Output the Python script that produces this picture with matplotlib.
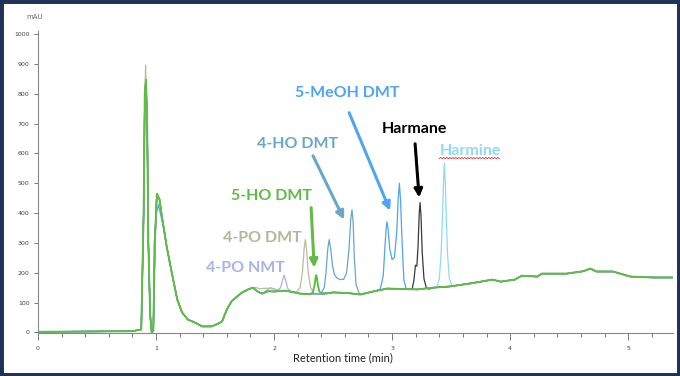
import numpy as np
import matplotlib
matplotlib.use("Agg")
import matplotlib.pyplot as plt
from matplotlib.patches import Rectangle

# shared baseline of the overlaid chromatograms (min, mAU)
base_t = np.array([0.00, 0.40, 0.80, 0.875, 0.895, 0.905, 0.915, 0.925, 0.935, 0.95, 0.963, 0.977,
                   0.99, 1.007, 1.03, 1.05, 1.09, 1.14, 1.18, 1.22, 1.27, 1.33, 1.39, 1.47, 1.53,
                   1.56, 1.60, 1.64, 1.68, 1.73, 1.78, 1.82, 1.86, 1.90, 1.95, 2.00, 2.10, 2.22,
                   2.35, 2.50, 2.62, 2.73, 2.84, 2.96, 3.10, 3.21, 3.35, 3.49, 3.66, 3.78, 3.85,
                   3.92, 4.04, 4.10, 4.23, 4.27, 4.48, 4.62, 4.68, 4.73, 4.87, 5.02, 5.21, 5.40])
base_v = np.array([2, 3, 4, 10, 400, 800, 846, 700, 300, 60, 0, 5,
                   300, 465, 445, 388, 288, 187, 110, 67, 43, 33, 20, 20, 30,
                   37, 77, 104, 118, 134, 144, 150, 137, 130, 138, 137, 140, 130,
                   128, 134, 132, 127, 137, 147, 145, 144, 150, 154, 164, 172, 177,
                   170, 177, 190, 187, 197, 197, 205, 214, 204, 204, 187, 184, 184])

# peaks of each compound
npo_nmt_t = [1.93, 1.97, 2.00, 2.03, 2.055, 2.07, 2.085, 2.10, 2.115, 2.14]
npo_nmt_v = [140, 150, 146, 141, 150, 172, 192, 172, 148, 137]

po_dmt_t = [1.85, 1.88, 1.93, 1.98, 2.02, 2.19, 2.22, 2.24, 2.255, 2.265, 2.275, 2.29, 2.31, 2.34]
po_dmt_v = [150, 146, 148, 147, 142, 135, 150, 200, 280, 311, 280, 200, 150, 130]
po_dmt_spike_t = [0.905, 0.912, 0.92]
po_dmt_spike_v = [800, 896, 760]

ho5_dmt_t = [2.31, 2.33, 2.343, 2.351, 2.357, 2.363, 2.371, 2.385, 2.41]
ho5_dmt_v = [128, 136, 158, 183, 192, 183, 158, 136, 128]

ho4_dmt_t = [2.40, 2.425, 2.44, 2.455, 2.467, 2.48, 2.495, 2.51, 2.53, 2.56, 2.59, 2.615, 2.635,
             2.65, 2.66, 2.67, 2.68, 2.695, 2.72]
ho4_dmt_v = [132, 150, 200, 280, 311, 280, 225, 195, 183, 177, 178, 200, 280, 380, 411, 370,
             250, 160, 132]

meo_dmt_t = [2.90, 2.925, 2.94, 2.95, 2.957, 2.965, 2.98, 3.00, 3.02, 3.04, 3.052, 3.062,
             3.072, 3.085, 3.10, 3.12]
meo_dmt_v = [145, 190, 290, 350, 371, 350, 280, 244, 252, 340, 450, 500, 440, 300, 175, 145]
meo_front_t = [0.985, 1.00, 1.02, 1.05, 1.07]
meo_front_v = [300, 395, 428, 375, 345]

harmane_t = [3.17, 3.185, 3.198, 3.21, 3.22, 3.23, 3.237, 3.245, 3.255, 3.27, 3.29, 3.31]
harmane_v = [145, 175, 225, 222, 290, 400, 435, 390, 270, 180, 150, 145]

harmine_t = [3.38, 3.40, 3.415, 3.428, 3.437, 3.443, 3.449, 3.458, 3.47, 3.485, 3.51]
harmine_v = [152, 180, 260, 400, 520, 568, 520, 400, 260, 180, 155]


def merge(t, v, pt, pv):
    keep = (t < pt[0]) | (t > pt[-1])
    t2 = np.concatenate([t[keep], pt])
    v2 = np.concatenate([v[keep], pv])
    order = np.argsort(t2)
    return t2[order], v2[order]


fig = plt.figure(figsize=(6.8, 3.76), dpi=100)
ax = fig.add_axes([38 / 680, 43 / 376, 635 / 680, 302 / 376])

traces = [
    ([(npo_nmt_t, npo_nmt_v)], "#aab3ea", 0.9),
    ([(po_dmt_t, po_dmt_v), (po_dmt_spike_t, po_dmt_spike_v)], "#b9bc9c", 0.9),
    ([(ho4_dmt_t, ho4_dmt_v)], "#6aa6c6", 0.9),
    ([(meo_dmt_t, meo_dmt_v), (meo_front_t, meo_front_v)], "#4ea5f0", 0.9),
    ([(harmane_t, harmane_v)], "#3a3a3a", 0.9),
    ([(harmine_t, harmine_v)], "#8fd9f6", 0.9),
    ([(ho5_dmt_t, ho5_dmt_v)], "#62bb46", 1.4),
]
for parts, col, lw in traces:
    t, v = base_t, base_v
    for pt, pv in parts:
        t, v = merge(t, v, np.array(pt), np.array(pv))
    ax.plot(t, v, color=col, lw=lw)

# labels and arrows
fnt = dict(family=["Lato", "DejaVu Sans"], fontweight="bold", fontsize=11.5, ha="center", va="center")
ax.text(2.62, 803, "5-MeOH DMT", color="#4ea5f0", **fnt)
ax.text(3.19, 682, "Harmane", color="black", **fnt)
hm = ax.text(3.66, 609, "Harmine", color="#8fd9f6", **fnt)
ax.text(2.195, 632, "4-HO DMT", color="#69a7c8", **fnt)
ax.text(1.98, 458, "5-HO DMT", color="#62bb46", **fnt)
ax.text(1.90, 318, "4-PO DMT", color="#b4b898", **fnt)
ax.text(1.755, 217, "4-PO NMT", color="#aab2e8", **fnt)

arrows = [
    ((2.636, 736), (2.983, 408), "#4ea5f0"),
    ((3.195, 632), (3.229, 452), "black"),
    ((2.33, 592), (2.593, 378), "#69a7c8"),
    ((2.314, 418), (2.34, 217), "#62bb46"),
]
for tail, head, col in arrows:
    ax.annotate("", xy=head, xytext=tail,
                arrowprops=dict(arrowstyle="-|>", color=col, lw=2.2, mutation_scale=12,
                                shrinkA=0, shrinkB=0))

ax.set_xlim(0, 5.38)
ax.set_ylim(-2, 1010)
ax.set_xticks(range(6))
ax.set_xticks(np.arange(0, 5.4, 0.2), minor=True)
ax.set_yticks(range(0, 1001, 100))
ax.tick_params(axis="x", which="major", length=5, width=0.7, colors="#777777", labelsize=4.5,
               labelcolor="#444444", pad=4)
ax.tick_params(axis="x", which="minor", length=3, width=0.7, colors="#777777")
ax.tick_params(axis="y", length=3, width=0.7, colors="#777777", labelsize=4.5,
               labelcolor="#444444", pad=3)
for s in ["top", "right"]:
    ax.spines[s].set_visible(False)
for s in ["left", "bottom"]:
    ax.spines[s].set_color("#888888")
    ax.spines[s].set_linewidth(0.8)

ax.text(-0.005, 1.046, "mAU", transform=ax.transAxes, fontsize=5, color="#666666",
        ha="center", va="center")
ax.set_xlabel("Retention time (min)", fontsize=8, family=["Lato", "DejaVu Sans"],
              color="#222222")
ax.xaxis.set_label_coords(0.48, -0.065)

# spell-check squiggle under "Harmine"
fig.canvas.draw()
bb = hm.get_window_extent()
xs = np.arange(bb.x0, bb.x1, 1.5)
ys = bb.y0 - 1 + np.where(np.arange(len(xs)) % 2 == 0, 0.0, 1.2)
fig.lines.append(plt.Line2D(xs / fig.bbox.width, ys / fig.bbox.height,
                            transform=fig.transFigure, color="#e03030", lw=0.6))

fig.patches.append(Rectangle((0, 0), 1, 1, transform=fig.transFigure, fill=False,
                             ec="#1f3358", lw=5))

fig.savefig("out.png", dpi=100)
